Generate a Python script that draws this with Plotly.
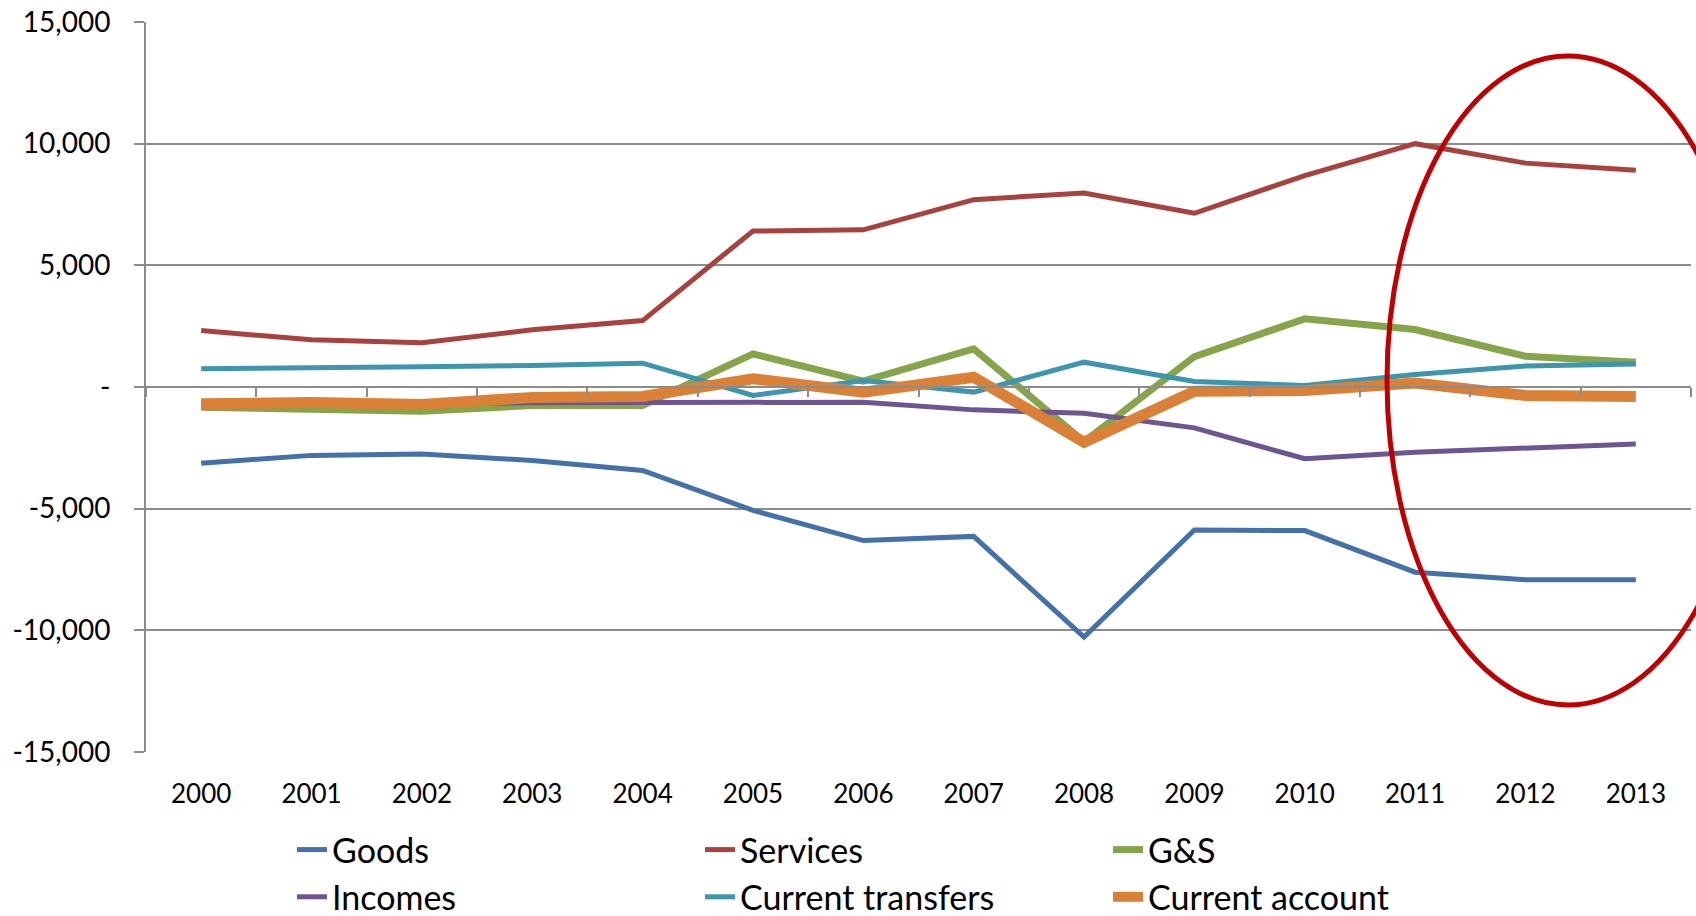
import plotly.graph_objects as go

# Balance of payments components, 2000-2013
years = [str(y) for y in range(2000, 2014)]

goods = [-3130, -2810, -2750, -3020, -3430, -5070, -6310, -6140, -10280, -5880, -5900, -7610, -7920, -7920]
services = [2320, 1940, 1815, 2350, 2730, 6410, 6460, 7700, 7970, 7140, 8690, 10000, 9200, 8910]
goods_services = [-830, -950, -1000, -760, -760, 1360, 240, 1570, -2250, 1250, 2800, 2360, 1260, 1020]
incomes = [-720, -680, -680, -650, -640, -630, -625, -940, -1080, -1680, -2950, -2680, -2510, -2340]
current_transfers = [750, 815, 835, 880, 980, -350, 270, -210, 1020, 230, 60, 510, 860, 950]
current_account = [-690, -640, -720, -430, -390, 340, -210, 400, -2270, -170, -140, 160, -350, -390]

y_ticks = [-15000, -10000, -5000, 0, 5000, 10000, 15000]
y_tick_text = ["-15,000", "-10,000", "-5,000", "-", "5,000", "10,000", "15,000"]

series = [
    ("Goods", goods, "#4471A9", 5, "x"),
    ("Services", services, "#A8423F", 5, "x"),
    ("G&S", goods_services, "#86A44A", 7, "x"),
    ("Incomes", incomes, "#6D5591", 5, "x"),
    ("Current transfers", current_transfers, "#3D96AE", 5, "x"),
    ("Current account", current_account, "#DA8137", 11, "x2"),
]

GRID = "#8C8C8C"
FONT = "Lato"

fig = go.Figure()
for name, vals, color, width, xa in series:
    fig.add_trace(go.Scatter(
        x=years, y=vals, name=name, mode="lines", xaxis=xa,
        line=dict(color=color, width=width),
    ))

fig.update_layout(
    width=1696, height=916,
    margin=dict(l=146, r=5, t=22, b=164),
    paper_bgcolor="white", plot_bgcolor="white",
    font=dict(family=FONT, color="black"),
    showlegend=True,
    legend=dict(
        orientation="h",
        xref="container", yref="container",
        x=292 / 1696, xanchor="left",
        y=1 - 821 / 916, yanchor="top",
        font=dict(size=34, family=FONT, color="black"),
        entrywidth=363, entrywidthmode="pixels",
        tracegroupgap=0, itemwidth=30,
        bgcolor="rgba(0,0,0,0)",
    ),
    xaxis=dict(
        type="category", categoryorder="array", categoryarray=years,
        range=[-0.5, 13.5],
        showgrid=False, showline=False, zeroline=False,
        ticks="", tickfont=dict(size=26, family=FONT, color="black"),
        ticklabelstandoff=24,
    ),
    xaxis2=dict(
        type="category", categoryorder="array", categoryarray=years,
        matches="x", overlaying="x", anchor="free", position=0.5, side="bottom",
        showgrid=False, zeroline=False,
        showline=True, linecolor=GRID, linewidth=2,
        ticks="outside", tickson="boundaries", ticklen=9, tickwidth=2, tickcolor=GRID,
        showticklabels=False,
    ),
    yaxis=dict(
        range=[-15000, 15000],
        tickvals=y_ticks, ticktext=y_tick_text,
        tickfont=dict(size=28, family=FONT, color="black"),
        showgrid=True, gridcolor=GRID, gridwidth=2,
        zeroline=False,
        showline=True, linecolor=GRID, linewidth=2,
        ticks="outside", ticklen=10, tickwidth=2, tickcolor=GRID,
        ticklabelstandoff=18,
    ),
)

# Red ellipse highlighting the most recent years
fig.add_shape(
    type="circle", xref="paper", yref="paper",
    x0=(1387 - 146) / 1545, x1=(1749 - 146) / 1545,
    y0=(752 - 705) / 730, y1=(752 - 56) / 730,
    line=dict(color="#C00000", width=5),
    fillcolor="rgba(0,0,0,0)", layer="above",
)

fig.write_html("out.html")
